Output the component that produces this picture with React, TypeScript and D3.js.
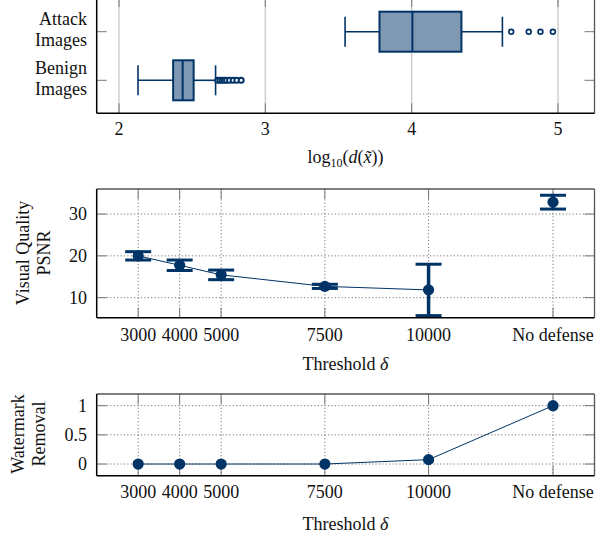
import React, { useEffect, useRef } from "react";
import * as d3 from "d3";

// ---- data ----
const boxLabels = [
  ["Benign", "Images"],
  ["Attack", "Images"],
];
// [low whisker, q1, median, q3, high whisker]
const benignBox = [2.13, 2.37, 2.435, 2.51, 2.66];
const attackBox = [3.545, 3.78, 4.005, 4.34, 4.62];
const benignOutliers = [2.675, 2.69, 2.705, 2.72, 2.735, 2.755, 2.78, 2.805, 2.835];
const attackOutliers = [4.68, 4.8, 4.88, 4.965];
const logTicks = [2, 3, 4, 5];

const thresholds = [3000, 4000, 5000, 7500, 10000, 13000];
const thresholdLabels = ["3000", "4000", "5000", "7500", "10000", "No defense"];
const psnrMean = [20.0, 17.75, 15.45, 12.7, 11.85, 32.85];
const psnrErr = [1.0, 1.25, 1.15, 0.5, 6.15, 1.65];
const psnrTicks = [10, 20, 30];
const removal = [0, 0, 0, 0, 0.075, 1];
const removalTicks = [0, 0.5, 1];

const NAVY = "#003366";
const FILL = "#7f99b2";
const FONT = "'Liberation Serif', 'Times New Roman', serif";

const W = 608;
const H = 537;
const L = 96.7;
const R = 594.5;

type Sel = d3.Selection<SVGGElement, unknown, null, undefined>;

function frame(g: Sel, top: number, bottom: number) {
  g.append("line").attr("x1", L).attr("x2", R).attr("y1", top).attr("y2", top)
    .attr("stroke", "#555").attr("stroke-width", 1.3);
  g.append("line").attr("x1", R).attr("x2", R).attr("y1", top).attr("y2", bottom)
    .attr("stroke", "#555").attr("stroke-width", 1.3);
  g.append("line").attr("x1", L).attr("x2", L).attr("y1", top).attr("y2", bottom)
    .attr("stroke", "#000").attr("stroke-width", 1.5);
  g.append("line").attr("x1", L).attr("x2", R).attr("y1", bottom).attr("y2", bottom)
    .attr("stroke", "#000").attr("stroke-width", 1.5);
}

function ticks(g: Sel, xs: number[], ys: number[], top: number, bottom: number) {
  const t = 10;
  xs.forEach((x) => {
    g.append("line").attr("x1", x).attr("x2", x).attr("y1", bottom).attr("y2", bottom - t)
      .attr("stroke", "#777").attr("stroke-width", 1);
    g.append("line").attr("x1", x).attr("x2", x).attr("y1", top).attr("y2", top + t)
      .attr("stroke", "#777").attr("stroke-width", 1);
  });
  ys.forEach((y) => {
    g.append("line").attr("x1", L).attr("x2", L + t).attr("y1", y).attr("y2", y)
      .attr("stroke", "#777").attr("stroke-width", 1);
    g.append("line").attr("x1", R).attr("x2", R - t).attr("y1", y).attr("y2", y)
      .attr("stroke", "#777").attr("stroke-width", 1);
  });
}

const App = () => {
  const svgRef = useRef<SVGSVGElement>(null);

  useEffect(() => {
    const svg = d3.select(svgRef.current);
    svg.selectAll("*").remove();
    const root = svg.append("g").style("font-family", FONT).style("font-size", "18px");

    // ================= Panel 1: box plots =================
    const p1 = root.append("g");
    const x1 = d3.scaleLinear().domain([2, 5]).range([119, 558]);
    const y1 = d3.scaleLinear().domain([0, 1]).range([80.3, 31.7]);
    const top1 = -3;
    const bot1 = 113.3;

    logTicks.forEach((v) => {
      p1.append("line").attr("x1", x1(v)).attr("x2", x1(v)).attr("y1", top1).attr("y2", bot1)
        .attr("stroke", "#d0d0d0").attr("stroke-width", 1.5);
    });
    ticks(p1, logTicks.map((v) => x1(v)), [0, 1].map((v) => y1(v)), top1, bot1);

    const boxes = [
      { stats: benignBox, out: benignOutliers, r: 2.5, sw: 2 },
      { stats: attackBox, out: attackOutliers, r: 2.4, sw: 1.7 },
    ];
    boxes.forEach((b, i) => {
      const cy = y1(i);
      const half = 20;
      const cap = 15;
      const [lo, q1, med, q3, hi] = b.stats;
      p1.append("line").attr("x1", x1(lo)).attr("x2", x1(q1)).attr("y1", cy).attr("y2", cy)
        .attr("stroke", NAVY).attr("stroke-width", 1.6);
      p1.append("line").attr("x1", x1(q3)).attr("x2", x1(hi)).attr("y1", cy).attr("y2", cy)
        .attr("stroke", NAVY).attr("stroke-width", 1.6);
      [lo, hi].forEach((v) => {
        p1.append("line").attr("x1", x1(v)).attr("x2", x1(v)).attr("y1", cy - cap).attr("y2", cy + cap)
          .attr("stroke", NAVY).attr("stroke-width", 1.6);
      });
      p1.append("rect").attr("x", x1(q1)).attr("y", cy - half)
        .attr("width", x1(q3) - x1(q1)).attr("height", 2 * half)
        .attr("fill", FILL).attr("stroke", NAVY).attr("stroke-width", 2);
      p1.append("line").attr("x1", x1(med)).attr("x2", x1(med)).attr("y1", cy - half).attr("y2", cy + half)
        .attr("stroke", NAVY).attr("stroke-width", 2);
      p1.selectAll(null).data(b.out).join("circle")
        .attr("cx", (d) => x1(d)).attr("cy", cy).attr("r", b.r)
        .attr("fill", "#fff").attr("stroke", NAVY).attr("stroke-width", b.sw);
    });

    frame(p1, top1, bot1);

    boxLabels.forEach((lines, i) => {
      const cy = y1(i);
      const t = p1.append("text").attr("text-anchor", "end").attr("fill", "#111");
      t.append("tspan").attr("x", 87).attr("y", cy - 6.3).text(lines[0]);
      t.append("tspan").attr("x", 87).attr("y", cy + 14.5).text(lines[1]);
    });
    logTicks.forEach((v) => {
      p1.append("text").attr("x", x1(v)).attr("y", 135).attr("text-anchor", "middle")
        .attr("fill", "#111").text(v);
    });
    const xl = p1.append("text").attr("x", 345.5).attr("y", 163).attr("text-anchor", "middle")
      .attr("fill", "#111");
    xl.append("tspan").text("log");
    xl.append("tspan").attr("dy", 4).style("font-size", "12px").text("10");
    xl.append("tspan").attr("dy", -4).text("(");
    xl.append("tspan").style("font-style", "italic").text("d");
    xl.append("tspan").text("(");
    xl.append("tspan").style("font-style", "italic").text("x\u0303");
    xl.append("tspan").text("))");

    // ============ shared x scale for panels 2 & 3 ============
    const xs = d3.scaleLinear().domain([2000, 14000]).range([L, R]);

    const dottedGrid = (g: Sel, xv: number[], yv: number[], top: number, bottom: number) => {
      xv.forEach((x) => {
        g.append("line").attr("x1", x).attr("x2", x).attr("y1", top).attr("y2", bottom)
          .attr("stroke", "#777").attr("stroke-width", 1).attr("stroke-dasharray", "1.2,2.2");
      });
      yv.forEach((y) => {
        g.append("line").attr("x1", L).attr("x2", R).attr("y1", y).attr("y2", y)
          .attr("stroke", "#777").attr("stroke-width", 1).attr("stroke-dasharray", "1.2,2.2");
      });
    };

    const xLabels = (g: Sel, baseline: number, labelY: number) => {
      thresholds.forEach((v, i) => {
        g.append("text").attr("x", xs(v)).attr("y", baseline).attr("text-anchor", "middle")
          .attr("fill", "#111").text(thresholdLabels[i]);
      });
      const t = g.append("text").attr("x", 345.5).attr("y", labelY).attr("text-anchor", "middle")
        .attr("fill", "#111");
      t.append("tspan").text("Threshold ");
      t.append("tspan").style("font-style", "italic").text("δ");
    };

    const yLabel = (g: Sel, cy: number, lines: string[], xs2: number[]) => {
      lines.forEach((s, i) => {
        g.append("text").attr("transform", `translate(${xs2[i]},${cy}) rotate(-90)`)
          .attr("text-anchor", "middle").attr("fill", "#111").text(s);
      });
    };

    // ================= Panel 2: PSNR =================
    const p2 = root.append("g");
    const top2 = 189;
    const bot2 = 317.7;
    const y2 = d3.scaleLinear().domain([5.2, 36]).range([bot2, top2]);

    dottedGrid(p2, thresholds.map((v) => xs(v)), psnrTicks.map((v) => y2(v)), top2, bot2);
    ticks(p2, thresholds.map((v) => xs(v)), psnrTicks.map((v) => y2(v)), top2, bot2);

    const line2 = d3.line<number>().x((_, i) => xs(thresholds[i])).y((d) => y2(d));
    p2.append("path").datum(psnrMean.slice(0, 5)).attr("d", line2)
      .attr("fill", "none").attr("stroke", NAVY).attr("stroke-width", 1);

    psnrMean.forEach((m, i) => {
      const cx = xs(thresholds[i]);
      const e = psnrErr[i];
      p2.append("line").attr("x1", cx).attr("x2", cx).attr("y1", y2(m - e)).attr("y2", y2(m + e))
        .attr("stroke", NAVY).attr("stroke-width", 3.5);
      [m - e, m + e].forEach((v) => {
        p2.append("line").attr("x1", cx - 13).attr("x2", cx + 13).attr("y1", y2(v)).attr("y2", y2(v))
          .attr("stroke", NAVY).attr("stroke-width", 3);
      });
      p2.append("circle").attr("cx", cx).attr("cy", y2(m)).attr("r", 5.6).attr("fill", NAVY);
    });

    frame(p2, top2, bot2);
    psnrTicks.forEach((v) => {
      p2.append("text").attr("x", 87).attr("y", y2(v) + 6).attr("text-anchor", "end")
        .attr("fill", "#111").text(v);
    });
    xLabels(p2, 340.7, 369.5);
    yLabel(p2, 253, ["Visual Quality", "PSNR"], [29, 49.5]);

    // ================= Panel 3: watermark removal =================
    const p3 = root.append("g");
    const top3 = 394;
    const bot3 = 475.7;
    const y3 = d3.scaleLinear().domain([-0.2, 1.2]).range([bot3, top3]);

    dottedGrid(p3, thresholds.map((v) => xs(v)), removalTicks.map((v) => y3(v)), top3, bot3);
    ticks(p3, thresholds.map((v) => xs(v)), removalTicks.map((v) => y3(v)), top3, bot3);

    const line3 = d3.line<number>().x((_, i) => xs(thresholds[i])).y((d) => y3(d));
    p3.append("path").datum(removal).attr("d", line3)
      .attr("fill", "none").attr("stroke", NAVY).attr("stroke-width", 1);
    removal.forEach((v, i) => {
      p3.append("circle").attr("cx", xs(thresholds[i])).attr("cy", y3(v)).attr("r", 5.6).attr("fill", NAVY);
    });

    frame(p3, top3, bot3);
    removalTicks.forEach((v) => {
      p3.append("text").attr("x", 87).attr("y", y3(v) + 6).attr("text-anchor", "end")
        .attr("fill", "#111").text(v);
    });
    xLabels(p3, 498.3, 529.5);
    yLabel(p3, 434, ["Watermark", "Removal"], [24, 45]);
  }, []);

  return (
    <svg
      ref={svgRef}
      width={W}
      height={H}
      style={{ position: "absolute", left: 0, top: 0, background: "#fff" }}
    ></svg>
  );
};

export default App;
